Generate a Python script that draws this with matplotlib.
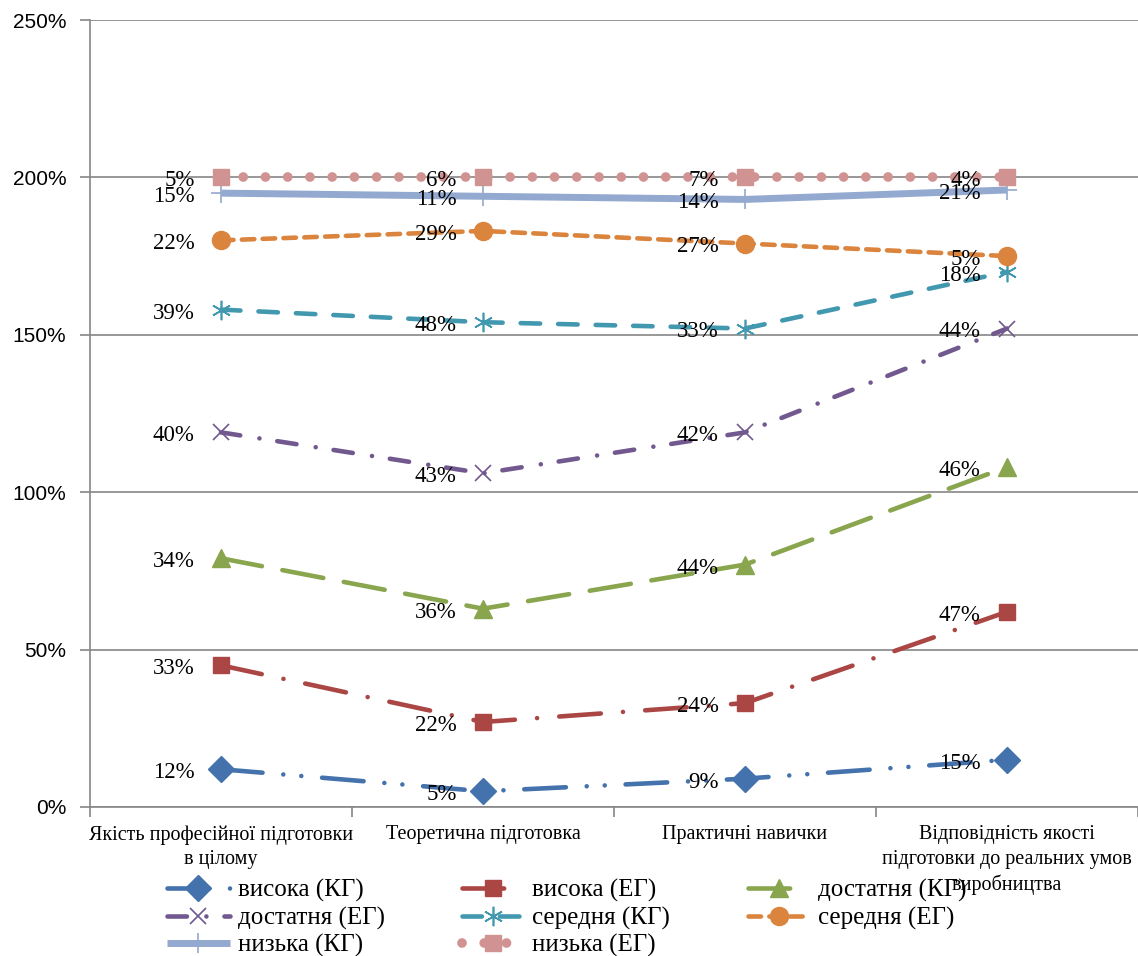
import numpy as np
import matplotlib
matplotlib.use('Agg')
from matplotlib import pyplot as plt
from matplotlib.ticker import FixedLocator, PercentFormatter

plt.rcParams['lines.scale_dashes'] = False

categories = ['Якість професійної підготовки\nв цілому',
              'Теоретична підготовка',
              'Практичні навички',
              'Відповідність якості\nпідготовки до реальних умов\nвиробництва']

series_names = ['висока (КГ)', 'висока (ЕГ)', 'достатня (КГ)', 'достатня (ЕГ)',
                'середня (КГ)', 'середня (ЕГ)', 'низька (КГ)', 'низька (ЕГ)']

# percent of respondents per level, one row per series
vysoka_kg = [12, 5, 9, 15]
vysoka_eg = [33, 22, 24, 47]
dostatnia_kg = [34, 36, 44, 46]
dostatnia_eg = [40, 43, 42, 44]
serednia_kg = [39, 48, 33, 18]
serednia_eg = [22, 29, 27, 5]
nyzka_kg = [15, 11, 14, 21]
nyzka_eg = [5, 6, 7, 4]

values = np.array([vysoka_kg, vysoka_eg, dostatnia_kg, dostatnia_eg,
                   serednia_kg, serednia_eg, nyzka_kg, nyzka_eg], dtype=float)
stacked = np.cumsum(values, axis=0)

# colour, dash pattern (points), marker, marker size, line width
styles = [
    ('#4472AD', (0, (30, 15, 0.01, 13, 0.01, 15)), 'D', 13, 3.3),
    ('#AA4643', (0, (30, 16, 0.01, 16)), 's', 12, 3.3),
    ('#89A54E', (0, (30, 15)), '^', 13, 3.3),
    ('#71588F', (0, (14, 14, 0.01, 13)), 'x', 12, 3.3),
    ('#4198AF', (0, (14, 13)), (6, 2, 0), 14, 3.3),
    ('#DB843D', (0, (9, 6)), 'o', 13, 3.3),
    ('#93A9CF', '-', '+', 14, 5.0),
    ('#D19392', (0, (0.01, 16)), 's', 12, 7.0),
]

fig = plt.figure(figsize=(11.38, 9.56), dpi=100)
ax = fig.add_axes([90/1138, 1 - 807/956, 1 - 90/1138, (807 - 20)/956])

x = np.arange(len(categories))
handles = []
for i, (name, (color, ls, mk, ms, lw)) in enumerate(zip(series_names, styles)):
    thin = mk in ('x', '+', (6, 2, 0))
    line, = ax.plot(x, stacked[i], color=color, linestyle=ls, linewidth=lw,
                    dash_capstyle='round', solid_capstyle='butt',
                    marker=mk, markersize=ms,
                    markeredgewidth=1.2 if thin else 1.0,
                    markerfacecolor=color, markeredgecolor=color,
                    label=name, zorder=3 + i)
    handles.append(line)
    for xi, yi, v in zip(x, stacked[i], values[i]):
        ax.annotate('{:d}%'.format(int(v)), (xi, yi), xytext=(-19, -2.5),
                    textcoords='offset points', ha='right', va='center',
                    fontsize=16.5, family='Liberation Serif', color='black',
                    zorder=20)

ax.set_xlim(-0.5, 3.49)
ax.set_ylim(0, 250)
ax.yaxis.set_major_locator(FixedLocator([0, 50, 100, 150, 200, 250]))
ax.yaxis.set_major_formatter(PercentFormatter(decimals=0))
ax.grid(axis='y', color='#868686', linewidth=1.2)
ax.set_axisbelow(True)

ax.set_xticks(x)
ax.set_xticklabels(categories, family='Liberation Serif', fontsize=14.5, linespacing=1.4)
ax.set_xticks(np.arange(-0.5, 3.6, 1.0), minor=True)
ax.tick_params(axis='x', which='major', length=0, pad=13)
ax.tick_params(axis='x', which='minor', length=7, width=1.2, color='#868686', direction='out')
ax.tick_params(axis='y', length=7, width=1.2, color='#868686', direction='out',
               labelsize=15, pad=10)
for lab in ax.get_yticklabels():
    lab.set_family('Liberation Sans')

for side in ('top', 'right'):
    ax.spines[side].set_visible(False)
for side in ('left', 'bottom'):
    ax.spines[side].set_color('#868686')
    ax.spines[side].set_linewidth(1.2)

# legend fills row by row
order = [0, 3, 6, 1, 4, 7, 2, 5]
fig.legend([handles[k] for k in order], [series_names[k] for k in order],
           loc='upper left', bbox_to_anchor=(167/1138, 1 - 879/956), ncol=3,
           frameon=False, prop={'family': 'Liberation Serif', 'size': 18},
           handlelength=2.5, handletextpad=0.32, columnspacing=3.1,
           labelspacing=0.18, borderaxespad=0, borderpad=0)

fig.savefig('out.png', dpi=100)
